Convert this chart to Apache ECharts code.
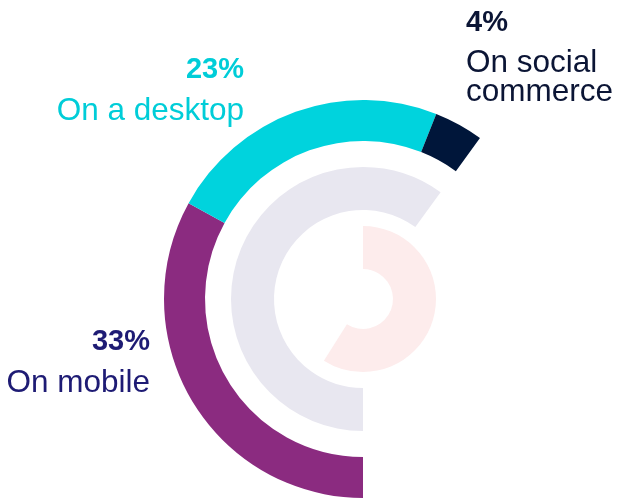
<!DOCTYPE html>
<html>
<head>
<meta charset="utf-8">
<script src="https://cdn.jsdelivr.net/npm/echarts@6/dist/echarts.min.js"></script>
<style>
html,body{margin:0;padding:0;background:#fff;}
#chart{width:617px;height:499px;}
</style>
</head>
<body>
<div id="chart"></div>
<script>
// ---- data ----
var categories = ['On mobile', 'On a desktop', 'On social commerce'];
var values = [33, 23, 4];
var middleRing = [60];
var innerRing = [59];

// ---- styles ----
var ringColors = ['#8B2B80', '#00D3DD', '#00163A'];
var labelColors = ['#1E1B74', '#00CDD8', '#0B1535'];
var labelLayout = [
  {x: 150, pctY: 342, txtY: 383, align: 'right', lines: 'On mobile'},
  {x: 244, pctY: 69.5, txtY: 111, align: 'right', lines: 'On a desktop'},
  {x: 466, pctY: 23, txtY: 77.6, align: 'left', lines: 'On social\ncommerce'}
];

function withBlank(arr, color) {
  var sum = arr.reduce(function (a, b) { return a + b; }, 0);
  var d = arr.map(function (v, i) {
    return {value: v, name: 'v' + i, itemStyle: {color: Array.isArray(color) ? color[i] : color}};
  });
  d.push({value: 100 - sum, name: 'blank', itemStyle: {color: 'rgba(0,0,0,0)'}});
  return d;
}

var center = [363, 299];
var common = {
  type: 'pie', center: center, clockwise: true, silent: true, animation: false,
  label: {show: false}, labelLine: {show: false}, emphasis: {disabled: true}
};

var graphics = [];
categories.forEach(function (c, i) {
  var L = labelLayout[i];
  graphics.push({
    type: 'text', x: L.x, y: L.pctY,
    style: {text: values[i] + '%', fill: labelColors[i], font: 'bold 29px "Liberation Sans", Arial, sans-serif',
      align: L.align, verticalAlign: 'middle'}
  });
  graphics.push({
    type: 'text', x: L.x, y: L.txtY,
    style: {text: L.lines, fill: labelColors[i], font: '31.5px "Liberation Sans", Arial, sans-serif',
      align: L.align, verticalAlign: 'middle', lineHeight: 29}
  });
});

var chart = echarts.init(document.getElementById('chart'), null, {renderer: 'canvas'});
chart.setOption({
  backgroundColor: '#fff',
  series: [
    Object.assign({}, common, {radius: [158, 199], startAngle: -90, data: withBlank(values, ringColors)}),
    Object.assign({}, common, {radius: [89, 132], startAngle: -90, data: withBlank(middleRing, '#E8E7F0')}),
    Object.assign({}, common, {radius: [30, 73], startAngle: 90, data: withBlank(innerRing, '#FDECEC')})
  ],
  graphic: graphics
});
</script>
</body>
</html>
